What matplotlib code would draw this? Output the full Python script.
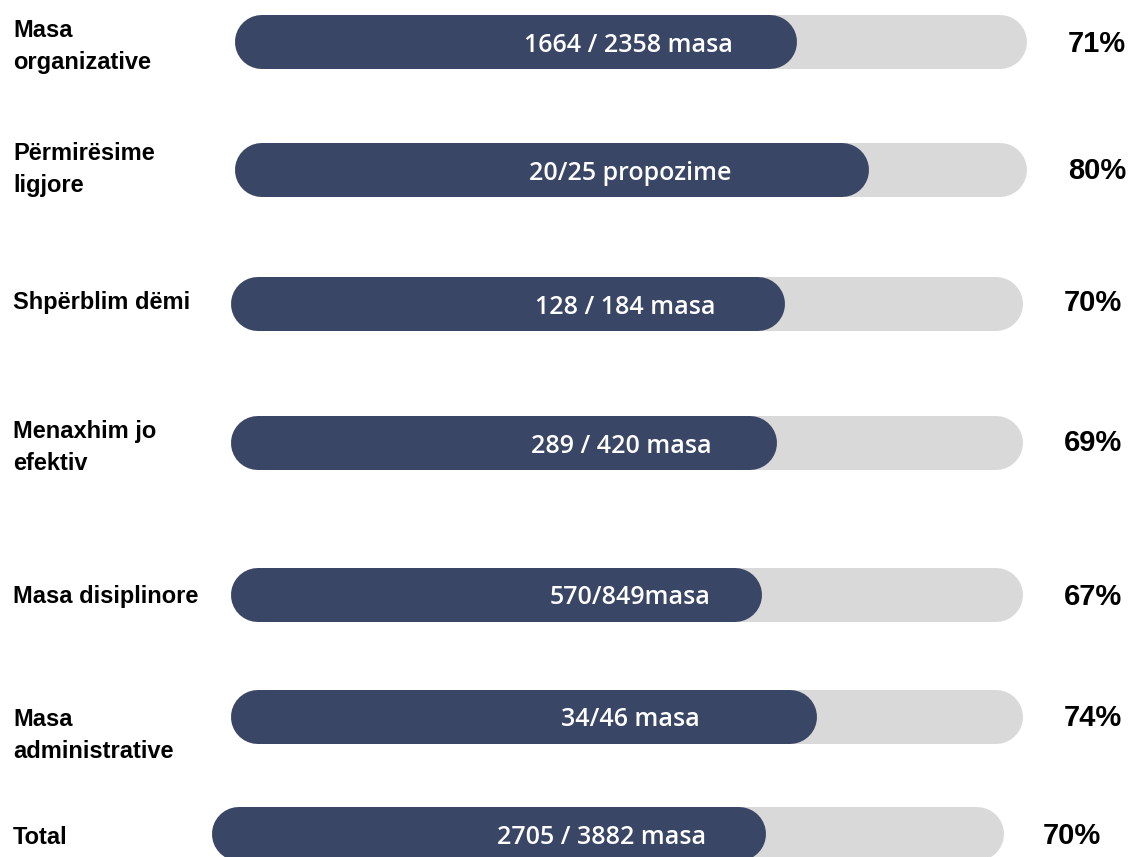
import matplotlib.pyplot as plt

# data
categories = ["Masa\norganizative", "Përmirësime\nligjore", "Shpërblim dëmi",
              "Menaxhim jo\nefektiv", "Masa disiplinore", "Masa\nadministrative", "Total"]
counts = ["1664 / 2358 masa", "20/25 propozime", "128 / 184 masa", "289 / 420 masa",
          "570/849masa", "34/46 masa", "2705 / 3882 masa"]
percent = [71, 80, 70, 69, 67, 74, 70]

# layout (pixel units)
bar_x0 = [235, 235, 231, 231, 231, 231, 212]
bar_y = [42, 170, 304, 443, 595, 717, 834]
label_y = [46, 169, 303, 447, 597, 736, 838]
pct_x = [1097, 1097, 1093, 1093, 1093, 1093, 1072]
pct_y = [44, 171, 303, 443, 597, 718, 836]
text_x = [628, 630, 625, 621, 630, 630, 602]
bar_w = 792
bar_h = 54
DPI = 100

navy = "#3a4666"
grey = "#d9d9d9"

fig = plt.figure(figsize=(11.33, 8.57), dpi=DPI)
ax = fig.add_axes([0, 0, 1, 1])
ax.set_xlim(0, 1133)
ax.set_ylim(857, 0)
ax.axis("off")

lw = bar_h * 72 / DPI
r = bar_h / 2
for i, cat in enumerate(categories):
    x0, y = bar_x0[i], bar_y[i]
    # track
    ax.plot([x0 + r, x0 + bar_w - r], [y, y], color=grey, lw=lw,
            solid_capstyle="round", zorder=1)
    # fill
    fill_end = x0 + bar_w * percent[i] / 100
    ax.plot([x0 + r, fill_end - r], [y, y], color=navy, lw=lw,
            solid_capstyle="round", zorder=2)
    ax.text(text_x[i], y + 3, counts[i], color="white", fontsize=18,
            family=["Open Sans", "DejaVu Sans"], fontweight="semibold",
            ha="center", va="center", zorder=3)
    ax.text(13, label_y[i], cat, fontsize=17, fontweight="bold",
            family=["Liberation Sans", "DejaVu Sans"], ha="left", va="center",
            linespacing=1.5)
    ax.text(pct_x[i], pct_y[i], f"{percent[i]}%", fontsize=21, fontweight="bold",
            family=["Liberation Sans", "DejaVu Sans"], ha="center", va="center")

fig.savefig("out.png", dpi=DPI)
